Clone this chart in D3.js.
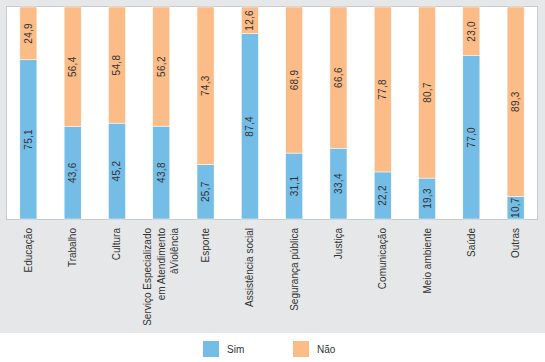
<!DOCTYPE html>
<html>
<head>
<meta charset="utf-8">
<script src="https://cdn.jsdelivr.net/npm/d3@7"></script>
<style>
  body { margin: 0; background: #ffffff; }
  svg { display: block; font-family: 'Liberation Sans', Arial, sans-serif; }
</style>
</head>
<body>
<div id="chart"></div>
<script>
const categories = [
  ['Educação'],
  ['Trabalho'],
  ['Cultura'],
  ['Serviço Especializado', 'em Atendimento', 'àViolência'],
  ['Esporte'],
  ['Assistência social'],
  ['Segurança pública'],
  ['Justiça'],
  ['Comunicação'],
  ['Meio ambiente'],
  ['Saúde'],
  ['Outras']
]
const sim = [75.1, 43.6, 45.2, 43.8, 25.7, 87.4, 31.1, 33.4, 22.2, 19.3, 77.0, 10.7]
const nao = [24.9, 56.4, 54.8, 56.2, 74.3, 12.6, 68.9, 66.6, 77.8, 80.7, 23.0, 89.3]
const seriesNames = ['Sim', 'Não']

const width = 545
const height = 362
const colors = { Sim: '#74bde7', 'Não': '#fbbc87' }

const svg = d3.select('#chart')
  .append('svg')
  .attr('width', width)
  .attr('height', height)

// fundo cinza
svg.append('rect')
  .attr('x', 0).attr('y', 0)
  .attr('width', width).attr('height', 333)
  .attr('fill', '#e6e7e8')

const plot = { left: 7, right: 537, top: 7, bottom: 219 }

svg.append('rect')
  .attr('x', plot.left - 0.5).attr('y', plot.top - 0.5)
  .attr('width', plot.right - plot.left + 1).attr('height', plot.bottom - plot.top + 1)
  .attr('fill', '#ffffff')
  .attr('stroke', '#c9cacc')
  .attr('stroke-width', 1)

const x = d3.scaleBand()
  .domain(d3.range(categories.length))
  .range([plot.left, plot.right])
  .paddingInner(0.615)
  .paddingOuter(0.29)

const y = d3.scaleLinear()
  .domain([0, 100])
  .range([plot.bottom, plot.top])

const rows = categories.map((c, i) => ({ i, sim: sim[i], nao: nao[i] }))
const stack = d3.stack().keys(['sim', 'nao'])(rows)

const groups = svg.append('g')
  .selectAll('g')
  .data(stack)
  .enter()
  .append('g')
  .attr('fill', (d, k) => colors[seriesNames[k]])

groups.selectAll('rect')
  .data(d => d)
  .enter()
  .append('rect')
  .attr('x', d => x(d.data.i))
  .attr('width', x.bandwidth())
  .attr('y', d => y(d[1]))
  .attr('height', d => y(d[0]) - y(d[1]))
  .attr('stroke', '#ffffff')
  .attr('stroke-width', 0.5)

// rótulos de valores
groups.selectAll('text')
  .data(d => d)
  .enter()
  .append('text')
  .attr('transform', d => {
    const cx = x(d.data.i) + x.bandwidth() / 2
    const cy = (y(d[0]) + y(d[1])) / 2
    return `translate(${cx},${cy}) rotate(-90)`
  })
  .attr('text-anchor', 'middle')
  .attr('dy', '0.35em')
  .attr('font-size', '10px')
  .attr('letter-spacing', '0.3px')
  .attr('fill', '#333333')
  .text(d => d3.format('.1f')(d[1] - d[0]).replace('.', ','))

// rótulos das categorias
const lineH = 13.5
const labels = svg.append('g')
  .selectAll('text')
  .data(categories)
  .enter()
  .append('text')
  .attr('transform', (d, i) => `translate(${x(i) + x.bandwidth() / 2},228) rotate(-90)`)
  .attr('text-anchor', 'end')
  .attr('font-size', '10px')
  .attr('fill', '#333333')

labels.selectAll('tspan')
  .data(d => d.map((t, j) => ({ t, j, n: d.length })))
  .enter()
  .append('tspan')
  .attr('x', 0)
  .attr('y', d => (d.j - (d.n - 1) / 2) * lineH)
  .attr('dy', '0.35em')
  .text(d => d.t)

// legenda
const legend = svg.append('g')
  .selectAll('g')
  .data(seriesNames)
  .enter()
  .append('g')
  .attr('transform', (d, k) => `translate(${203 + k * 90},341)`)

legend.append('rect')
  .attr('width', 16)
  .attr('height', 16)
  .attr('fill', d => colors[d])

legend.append('text')
  .attr('x', 24)
  .attr('y', 8)
  .attr('dy', '0.35em')
  .attr('font-size', '10px')
  .attr('fill', '#333333')
  .text(d => d)
</script>
</body>
</html>
